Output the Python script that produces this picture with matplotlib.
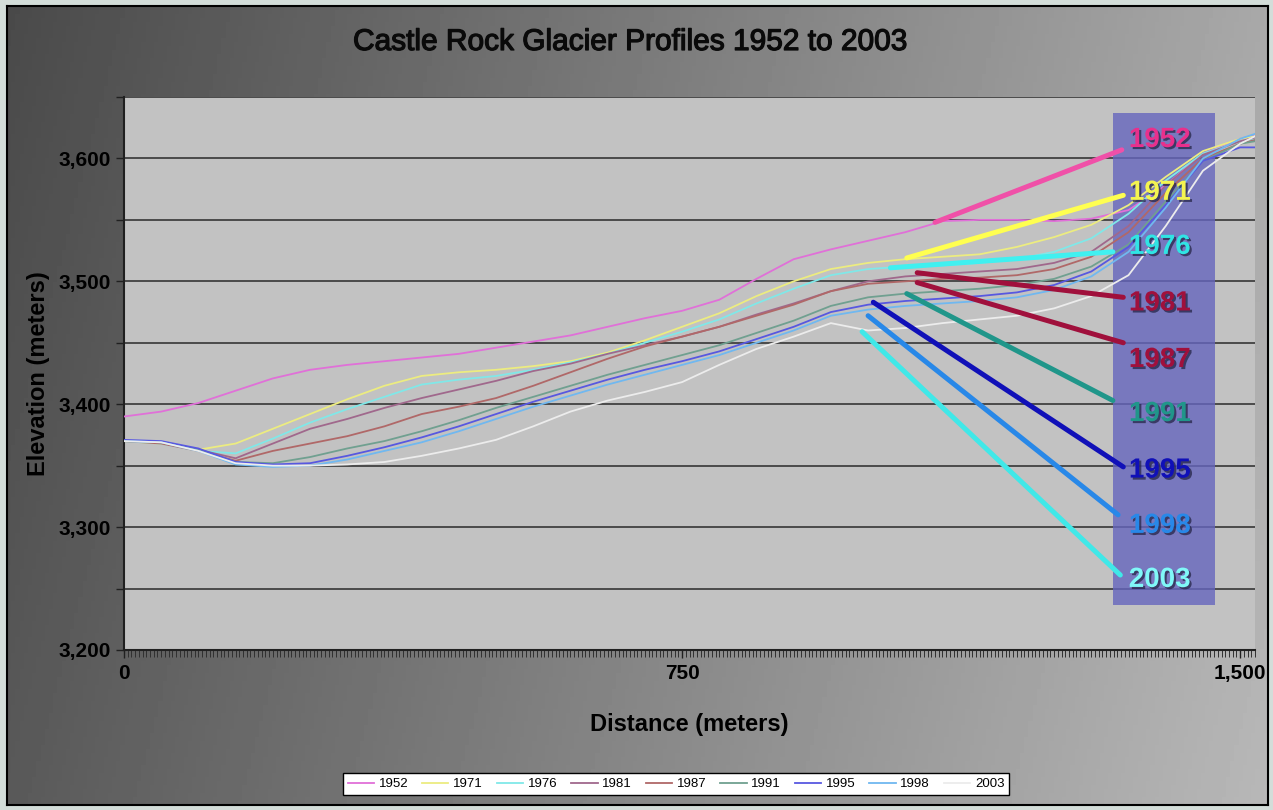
import numpy as np
import matplotlib
matplotlib.use("Agg")
import matplotlib.pyplot as plt
import matplotlib.patheffects as pe
from matplotlib.patches import Rectangle
from matplotlib.ticker import MultipleLocator, StrMethodFormatter

# distance along the profile (m)
distance = [0, 50, 100, 150, 200, 250, 300, 350, 400, 450, 500, 550, 600, 650, 700, 750,
            800, 850, 900, 950, 1000, 1050, 1100, 1150, 1200, 1250, 1300, 1350, 1400, 1450,
            1500, 1520]

years = ["1952", "1971", "1976", "1981", "1987", "1991", "1995", "1998", "2003"]

elev_1952 = [3390, 3394, 3401, 3411, 3421, 3428, 3432, 3435, 3438, 3441, 3446, 3451, 3456, 3463,
             3470, 3476, 3485, 3502, 3518, 3526, 3533, 3540, 3549, 3550, 3550, 3549, 3551, 3558,
             3578, 3604, 3616, 3619]
elev_1971 = [3370, 3368, 3363, 3368, 3380, 3392, 3404, 3415, 3423, 3426, 3428, 3431, 3435, 3442,
             3452, 3463, 3474, 3488, 3500, 3510, 3515, 3518, 3520, 3522, 3528, 3536, 3546, 3562,
             3585, 3606, 3616, 3618]
elev_1976 = [3370, 3368, 3362, 3360, 3372, 3385, 3396, 3406, 3416, 3420, 3423, 3428, 3434, 3441,
             3450, 3459, 3469, 3482, 3494, 3505, 3510, 3512, 3513, 3515, 3518, 3524, 3535, 3555,
             3582, 3604, 3614, 3616]
elev_1981 = [3370, 3369, 3363, 3356, 3368, 3380, 3388, 3397, 3405, 3412, 3419, 3427, 3433, 3441,
             3448, 3455, 3463, 3473, 3482, 3492, 3500, 3504, 3506, 3508, 3510, 3515, 3524, 3545,
             3578, 3603, 3614, 3617]
elev_1987 = [3370, 3368, 3362, 3354, 3362, 3368, 3374, 3382, 3392, 3398, 3405, 3415, 3426, 3437,
             3447, 3455, 3463, 3472, 3481, 3492, 3498, 3500, 3502, 3503, 3505, 3510, 3520, 3540,
             3572, 3600, 3612, 3615]
elev_1991 = [3370, 3369, 3363, 3353, 3352, 3357, 3364, 3370, 3378, 3387, 3397, 3406, 3415, 3424,
             3432, 3440, 3448, 3458, 3468, 3480, 3487, 3490, 3492, 3494, 3497, 3502, 3512, 3530,
             3565, 3598, 3612, 3614]
elev_1995 = [3371, 3370, 3364, 3353, 3351, 3352, 3358, 3365, 3373, 3382, 3392, 3402, 3411, 3420,
             3428, 3435, 3443, 3453, 3463, 3475, 3481, 3484, 3486, 3488, 3491, 3497, 3508, 3528,
             3562, 3598, 3609, 3609]
elev_1998 = [3370, 3369, 3362, 3351, 3349, 3350, 3355, 3362, 3369, 3378, 3388, 3398, 3407, 3416,
             3424, 3432, 3440, 3450, 3460, 3472, 3477, 3480, 3482, 3484, 3487, 3493, 3504, 3524,
             3560, 3600, 3616, 3620]
elev_2003 = [3370, 3369, 3362, 3352, 3350, 3350, 3351, 3353, 3358, 3364, 3371, 3382, 3394, 3403,
             3410, 3418, 3432, 3445, 3455, 3466, 3460, 3462, 3466, 3469, 3472, 3478, 3488, 3505,
             3545, 3590, 3612, 3618]

series = [elev_1952, elev_1971, elev_1976, elev_1981, elev_1987,
          elev_1991, elev_1995, elev_1998, elev_2003]

line_colors = ["#e070d8", "#ecec80", "#80e8e8", "#a0688c", "#b06868",
               "#70a090", "#5858e0", "#70b8f0", "#ececec"]

# callout leaders: from a point near each profile to its year label
callout_from_d = [1090, 1052, 1030, 1066, 1066, 1052, 1007, 1000, 992]
callout_from_e = [3548, 3519, 3511, 3507, 3499, 3490, 3483, 3472, 3459]
callout_to_d = [1341, 1343, 1329, 1343, 1343, 1329, 1343, 1336, 1339]
callout_to_e = [3607, 3570, 3524, 3487, 3450, 3403, 3349, 3310, 3261]
label_e = [3615, 3572, 3528, 3482, 3436, 3392, 3346, 3301, 3257]
callout_colors = ["#f050a8", "#ffff50", "#40f0f0", "#a0103c", "#a0103c",
                  "#20968a", "#1010b8", "#2888e8", "#40e8e8"]
label_colors = ["#e8308c", "#f4f450", "#30e4e4", "#a0103c", "#a0103c",
                "#20968a", "#1010b8", "#2888e8", "#80f8f8"]

W, H = 1273, 810
fig = plt.figure(figsize=(W / 100, H / 100), dpi=100, facecolor="#d3ddd9")

# gradient backdrop with black frame
bg = fig.add_axes([7 / W, 5 / H, 1261 / W, 799 / H])
xf = np.linspace(0, 1, 300)
yf = np.linspace(0, 1, 200)
XX, YY = np.meshgrid(xf, yf)
grad = 0.29 + 0.37 * XX + 0.06 * YY
bg.imshow(grad, cmap="gray", vmin=0, vmax=1, aspect="auto", extent=(0, 1, 1, 0))
bg.set_xticks([])
bg.set_yticks([])
for s in bg.spines.values():
    s.set_color("black")
    s.set_linewidth(1.5)

ax = fig.add_axes([124 / W, 1 - 650 / H, 1131 / W, 553 / H])
ax.set_facecolor("#c2c2c2")
ax.set_xlim(0, 1520)
ax.set_ylim(3200, 3650)

ax.yaxis.set_major_locator(MultipleLocator(100))
ax.yaxis.set_minor_locator(MultipleLocator(50))
ax.yaxis.set_major_formatter(StrMethodFormatter("{x:,.0f}"))
ax.set_xticks([0, 750, 1500])
ax.xaxis.set_major_formatter(StrMethodFormatter("{x:,.0f}"))
ax.xaxis.set_minor_locator(MultipleLocator(5))
ax.grid(axis="y", which="both", color="#4a4a4a", linewidth=1.4, zorder=0)
ax.set_axisbelow(True)

for s in ["top", "right"]:
    ax.spines[s].set_visible(False)
for s in ["left", "bottom"]:
    ax.spines[s].set_color("#202020")
    ax.spines[s].set_linewidth(1.5)

tick_font = {"family": "Liberation Sans", "weight": "bold", "size": 15}
ax.tick_params(axis="y", which="both", direction="out", length=6, width=1, color="#202020")
ax.tick_params(axis="x", which="major", direction="out", length=6, width=1, color="#202020", pad=4)
ax.tick_params(axis="x", which="minor", direction="out", length=5, width=0.7, color="#303030")
for lbl in ax.get_xticklabels() + ax.get_yticklabels():
    lbl.set_fontproperties(tick_font)
    lbl.set_fontsize(15)

# label panel
panel = Rectangle((1329, 3237), 137, 400, facecolor="#6666be", alpha=0.8,
                  edgecolor="none", zorder=1)
ax.add_patch(panel)

for yr, vals, c in zip(years, series, line_colors):
    ax.plot(distance, vals, color=c, linewidth=1.3, label=yr, zorder=3)

for i in range(len(years)):
    ax.plot([callout_from_d[i], callout_to_d[i]], [callout_from_e[i], callout_to_e[i]],
            color=callout_colors[i], linewidth=3.6, solid_capstyle="round", zorder=4)
    ax.text(1392, label_e[i], years[i], ha="center", va="center", color=label_colors[i],
            fontsize=20, fontweight="bold", family="Liberation Sans", zorder=5,
            path_effects=[pe.withSimplePatchShadow(offset=(1.5, -1.5), shadow_rgbFace="#202040",
                                                   alpha=0.7)])

ax.set_xlabel("Distance (meters)", fontsize=17, fontweight="bold",
              family="Liberation Sans", labelpad=22)
ax.set_ylabel("Elevation (meters)", fontsize=17, fontweight="bold",
              family="Liberation Sans", labelpad=6)

fig.text(630 / W, 1 - 42 / H, "Castle Rock Glacier Profiles 1952 to 2003", ha="center",
         va="center", fontsize=21.5, family=["Liberation Sans Narrow", "Liberation Sans"],
         color="#0a0a0a",
         path_effects=[pe.withStroke(linewidth=0.9, foreground="#0a0a0a")])

leg = fig.legend(loc="center", bbox_to_anchor=(676 / W, 1 - 784 / H), ncol=9,
                 frameon=True, fancybox=False, handlelength=2.0,
                 columnspacing=1.05, handletextpad=0.35, borderpad=0.35,
                 prop={"family": ["Liberation Sans Narrow", "Liberation Sans"], "size": 9.5})
leg.get_frame().set_edgecolor("black")
leg.get_frame().set_linewidth(1.0)
leg.get_frame().set_facecolor("white")
leg.get_frame().set_alpha(1)

fig.savefig("out.png", dpi=100, facecolor=fig.get_facecolor())
